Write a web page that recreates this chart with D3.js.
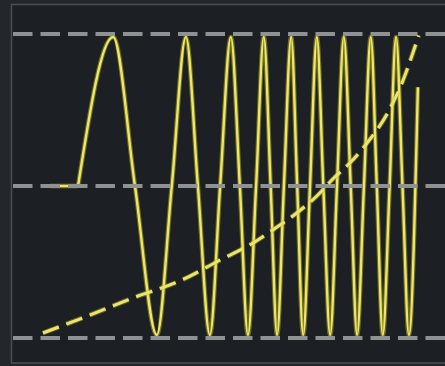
<!DOCTYPE html>
<html>
<head>
<meta charset="utf-8">
<script src="https://cdn.jsdelivr.net/npm/d3@7"></script>
<style>
  html, body { margin: 0; padding: 0; background: #25292e; }
  svg { display: block; }
</style>
</head>
<body>
<svg id="chart" width="445" height="366"></svg>
<script>
// ---- data ----
// grid levels
const gridLevels = [1, 0, -1];

// chirp signal: time (0..100) and amplitude (-1..1), read at extrema and zero crossings
const chirpTime = [8.6, 15.2, 23.4, 28.5, 33.6, 37.1, 40.4, 43.2, 46.0, 48.4, 50.9, 53.0, 54.9, 56.8, 58.6,
  60.2, 61.7, 63.3, 65.0, 66.4, 67.8, 69.4, 71.0, 72.5, 74.1, 75.7, 77.3, 78.9, 80.4, 82.0, 83.6,
  85.0, 86.4, 88.0, 89.5, 91.0, 92.5, 94.6];
const chirpValue = [0, 0, 0.98, 0, -0.98, 0, 0.98, 0, -0.98, 0, 0.98, 0, -0.98, 0, 0.98,
  0, -0.98, 0, 0.98, 0, -0.98, 0, 0.98, 0, -0.98, 0, 0.98, 0, -0.98, 0, 0.98,
  0, -0.98, 0, 0.98, 0, -0.98, 0.65];

// exponential envelope (dashed)
const expTime = [7.0, 16.8, 28.0, 39.5, 48.4, 56.1, 60.7, 66.6, 71.0, 75.2, 78.7, 82.9, 87.4, 90.4, 94.8];
const expValue = [-0.967, -0.862, -0.737, -0.618, -0.487, -0.375, -0.289, -0.171, -0.066, 0.059, 0.151, 0.289, 0.474, 0.645, 0.99];

// ---- drawing ----
const svg = d3.select("#chart");
const W = 445, H = 366;

const x = d3.scaleLinear().domain([0, 100]).range([13, 441]);
const y = d3.scaleLinear().domain([-1, 1]).range([338, 34]);

// panel
svg.append("rect").attr("x", 0).attr("y", 0).attr("width", W).attr("height", H).attr("fill", "#23272c");
svg.append("rect")
  .attr("x", 11.5).attr("y", 4.5).attr("width", W).attr("height", 358.5)
  .attr("fill", "#1c2025").attr("stroke", "#4a4f55").attr("stroke-width", 1.5);

const chirpData = chirpTime.map((t, i) => [t, chirpValue[i]]);
const leadIn = chirpData.slice(0, 2);      // flat part before the signal starts
const wave = chirpData.slice(1);          // the oscillation itself
const expData = expTime.map((t, i) => [t, expValue[i]]);

const smooth = d3.line().x(d => x(d[0])).y(d => y(d[1])).curve(d3.curveMonotoneX);
const straight = d3.line().x(d => x(d[0])).y(d => y(d[1]));

function drawChirp(data, gen) {
  svg.append("path").datum(data).attr("d", gen)
    .attr("fill", "none").attr("stroke", "#bdb31e").attr("stroke-opacity", 0.5).attr("stroke-width", 4.6);
  svg.append("path").datum(data).attr("d", gen)
    .attr("fill", "none").attr("stroke", "#ece66a").attr("stroke-width", 2.4);
}
drawChirp(leadIn, straight);
drawChirp(wave, smooth);

// gridlines (drawn on top)
svg.append("g").selectAll("line").data(gridLevels).join("line")
  .attr("x1", 13).attr("x2", W)
  .attr("y1", d => y(d)).attr("y2", d => y(d))
  .attr("stroke", "#8f9193").attr("stroke-width", 4)
  .attr("stroke-dasharray", "19.5,8");

// dashed exponential
svg.append("path").datum(expData).attr("d", smooth)
  .attr("fill", "none").attr("stroke", "#bdb31e").attr("stroke-opacity", 0.45).attr("stroke-width", 5)
  .attr("stroke-dasharray", "17,8");
svg.append("path").datum(expData).attr("d", smooth)
  .attr("fill", "none").attr("stroke", "#ebe570").attr("stroke-width", 3)
  .attr("stroke-dasharray", "17,8");
</script>
</body>
</html>
